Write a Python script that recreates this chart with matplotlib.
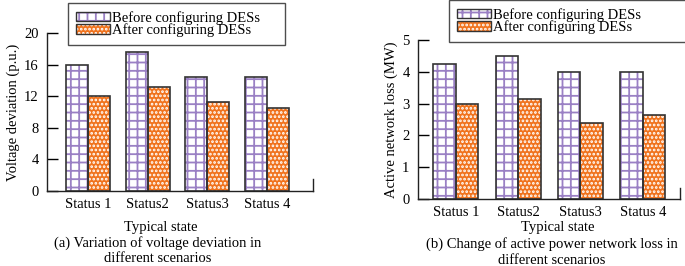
import numpy as np
import matplotlib
matplotlib.use('Agg')
import matplotlib.pyplot as plt
from matplotlib.patches import Rectangle
from matplotlib.legend_handler import HandlerTuple

plt.rcParams['font.family'] = ['Liberation Serif', 'DejaVu Serif']
plt.rcParams['hatch.linewidth'] = 1.3

states = ['Status 1', 'Status2', 'Status3', 'Status 4']
series = ['Before configuring DESs', 'After configuring DESs']
volt_before = [15.9, 17.6, 14.4, 14.4]
volt_after = [12.0, 13.2, 11.3, 10.5]
loss_before = [4.25, 4.5, 4.0, 4.0]
loss_after = [3.0, 3.13, 2.38, 2.63]

purple = '#9a80c4'
orange = '#f0731e'
edge = '#333333'
fs = 10.5

fig = plt.figure(figsize=(6.85, 2.66), dpi=100)
ax1 = fig.add_axes([0.0686, 0.282, 0.388, 0.594])
ax2 = fig.add_axes([0.610, 0.252, 0.382, 0.598])


def draw(ax, before, after, width, ylim, yticks, xlim, endtick):
    x = np.arange(len(states))
    # fill + hatch layer, then outline layer on top
    ax.bar(x - width / 2, before, width, color='white', edgecolor=purple,
           hatch='++', linewidth=0)
    ax.bar(x + width / 2, after, width, color=orange, edgecolor='white',
           hatch='....', linewidth=0)
    ax.bar(x - width / 2, before, width, color='none', edgecolor=edge, linewidth=1.2)
    ax.bar(x + width / 2, after, width, color='none', edgecolor=edge, linewidth=1.2)
    ax.set_xlim(*xlim)
    ax.set_ylim(*ylim)
    ax.set_yticks(yticks)
    ax.set_xticks(x)
    ax.set_xticklabels(states)
    ax.spines['top'].set_visible(False)
    ax.spines['right'].set_bounds(0, endtick)
    for s in ax.spines.values():
        s.set_color('#222222')
        s.set_linewidth(1.0)
    ax.tick_params(axis='y', direction='in', length=8, width=1.0, labelsize=fs, pad=6)
    ax.tick_params(axis='x', length=0, labelsize=fs, pad=5)


draw(ax1, volt_before, volt_after, 0.37, (0, 20), [0, 4, 8, 12, 16, 20], (-0.687, 3.77), 1.5)
draw(ax2, loss_before, loss_after, 0.36, (0, 5), [0, 1, 2, 3, 4, 5], (-0.61, 3.59), 0.35)

ax1.set_ylabel('Voltage deviation (p.u.)', fontsize=fs, labelpad=3)
ax2.set_ylabel('Active network loss (MW)', fontsize=fs, labelpad=3)

# legend proxies: hatch layer plus dark outline, overlaid
h1 = (Rectangle((0, 0), 1, 1, facecolor='white', edgecolor=purple, hatch='++', linewidth=0),
      Rectangle((0, 0), 1, 1, facecolor='none', edgecolor=edge, linewidth=1.0))
h2 = (Rectangle((0, 0), 1, 1, facecolor=orange, edgecolor='white', hatch='....', linewidth=0),
      Rectangle((0, 0), 1, 1, facecolor='none', edgecolor=edge, linewidth=1.0))

for ax, bbox in [(ax1, (68 / 685, 1 - 40 / 266, 217 / 685, 37 / 266)),
                 (ax2, (449 / 685, 1 - 38 / 266, 240 / 685, 38 / 266))]:
    leg = ax.legend([h1, h2], series, loc='upper left', bbox_to_anchor=bbox,
                    bbox_transform=fig.transFigure, mode='expand', fontsize=fs,
                    handler_map={tuple: HandlerTuple(ndivide=1, pad=0)},
                    frameon=True, fancybox=False, edgecolor='#222222',
                    handlelength=2.3, handleheight=0.6, handletextpad=0.2,
                    labelspacing=-0.1, borderpad=0.55, borderaxespad=0)
    leg.get_frame().set_linewidth(1.0)

fig.text(161 / 685, 1 - 227 / 266, 'Typical state', ha='center', va='center', fontsize=fs)
fig.text(158 / 685, 1 - 243 / 266, '(a) Variation of voltage deviation in', ha='center', va='center', fontsize=fs)
fig.text(158 / 685, 1 - 259 / 266, 'different scenarios', ha='center', va='center', fontsize=fs)
fig.text(558 / 685, 1 - 227 / 266, 'Typical state', ha='center', va='center', fontsize=fs)
fig.text(552 / 685, 1 - 244 / 266, '(b) Change of active power network loss in', ha='center', va='center', fontsize=fs)
fig.text(552 / 685, 1 - 261 / 266, 'different scenarios', ha='center', va='center', fontsize=fs)

fig.savefig('out.png', dpi=100)
